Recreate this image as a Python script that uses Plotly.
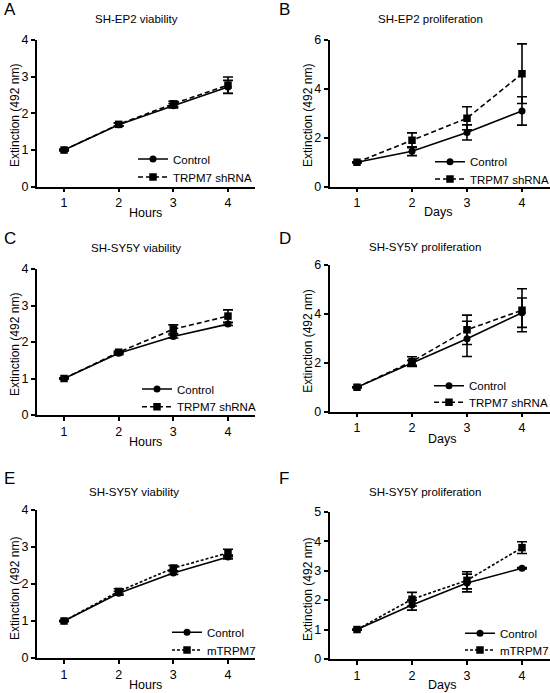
import plotly.graph_objects as go

W, H = 550, 693

# ---------------- data ----------------
x_vals = [1, 2, 3, 4]
x_ticklabels = ["1", "2", "3", "4"]

A_control = [1.00, 1.69, 2.21, 2.72]
A_control_err = [0.02, 0.04, 0.06, 0.18]
A_shrna = [1.00, 1.70, 2.26, 2.77]
A_shrna_err = [0.02, 0.04, 0.07, 0.22]

B_control = [1.00, 1.45, 2.22, 3.10]
B_control_err = [0.02, 0.18, 0.31, 0.58]
B_shrna = [1.00, 1.90, 2.80, 4.62]
B_shrna_err = [0.02, 0.30, 0.47, 1.22]

C_control = [1.00, 1.69, 2.15, 2.49]
C_control_err = [0.01, 0.03, 0.04, 0.04]
C_shrna = [1.00, 1.72, 2.35, 2.71]
C_shrna_err = [0.01, 0.03, 0.12, 0.17]

D_control = [1.00, 2.00, 2.98, 4.05]
D_control_err = [0.02, 0.10, 0.72, 0.60]
D_shrna = [1.00, 2.05, 3.35, 4.15]
D_shrna_err = [0.02, 0.20, 0.60, 0.88]

E_control = [1.00, 1.75, 2.30, 2.73]
E_control_err = [0.01, 0.05, 0.04, 0.05]
E_mtrpm7 = [1.00, 1.80, 2.43, 2.84]
E_mtrpm7_err = [0.01, 0.07, 0.07, 0.10]

F_control = [1.00, 1.83, 2.58, 3.08]
F_control_err = [0.01, 0.17, 0.30, 0.02]
F_mtrpm7 = [1.00, 2.03, 2.67, 3.78]
F_mtrpm7_err = [0.01, 0.23, 0.29, 0.20]

panel_letters = ["A", "B", "C", "D", "E", "F"]
panel_titles = ["SH-EP2 viability", "SH-EP2 proliferation",
                "SH-SY5Y viability", "SH-SY5Y proliferation",
                "SH-SY5Y viability", "SH-SY5Y proliferation"]
x_titles = ["Hours", "Days", "Hours", "Days", "Hours", "Days"]
y_title = "Extinction (492 nm)"
y_max = [4, 6, 4, 6, 4, 5]
y_dtick = [1, 2, 1, 2, 1, 1]
series_names = [("Control", "TRPM7 shRNA"), ("Control", "TRPM7 shRNA"),
                ("Control", "TRPM7 shRNA"), ("Control", "TRPM7 shRNA"),
                ("Control", "mTRPM7"), ("Control", "mTRPM7")]

panels = [
    (A_control, A_control_err, A_shrna, A_shrna_err),
    (B_control, B_control_err, B_shrna, B_shrna_err),
    (C_control, C_control_err, C_shrna, C_shrna_err),
    (D_control, D_control_err, D_shrna, D_shrna_err),
    (E_control, E_control_err, E_mtrpm7, E_mtrpm7_err),
    (F_control, F_control_err, F_mtrpm7, F_mtrpm7_err),
]

# ---------------- layout geometry (pixels) ----------------
x_px = [(36.7, 255.3), (329.5, 549.5)] * 3
y_px = [(40, 186.7), (40, 186.7), (269, 415), (265, 411.7), (510, 658), (511.7, 659)]
letter_pos = [(2, 9.5), (277, 9.5), (2, 238), (277, 238), (2, 479), (277, 479)]
title_pos = [(136.5, 19), (430, 19), (136, 248), (425, 247), (134, 492), (425, 492)]
xtitle_pos = [(145.7, 213), (438, 212), (145.7, 442), (441.7, 439), (145.8, 685), (441.7, 685)]
ytitle_pos = [(15, 116), (308, 116), (15, 345), (308, 341.7), (15, 589), (308, 590)]
legend_pos = [  # text start x, row1 y, row2 y
    (173, 159, 177), (470, 161.7, 179), (177, 389, 406.7),
    (469, 385.7, 402.3), (207, 632.3, 650), (500, 633.3, 650),
]
dash_styles = ["5px,3px"] * 4 + ["3px,2px"] * 2

FONT = "Arial, 'Liberation Sans', sans-serif"


def px_x(p):
    return p / W


def px_y(p):
    return 1 - p / H


fig = go.Figure()
layout = dict(
    width=W, height=H,
    margin=dict(l=0, r=0, t=0, b=0, pad=0, autoexpand=False),
    paper_bgcolor="white", plot_bgcolor="white",
    font=dict(family=FONT, size=12, color="black"),
    showlegend=True,
    annotations=[],
)

leg_idx = 0
for i, (ctrl, ctrl_err, trt, trt_err) in enumerate(panels):
    n = "" if i == 0 else str(i + 1)
    xa, ya = "x" + n, "y" + n
    x0, x1 = x_px[i]
    yt, yb = y_px[i]
    layout["xaxis" + n] = dict(
        domain=[px_x(x0), px_x(x1)], range=[0.5, 4.5], anchor=ya,
        tickvals=x_vals, ticktext=x_ticklabels,
        showline=True, linecolor="black", linewidth=1.5,
        ticks="outside", ticklen=4, tickwidth=1.5, tickcolor="black",
        showgrid=False, zeroline=False, fixedrange=True, automargin=False,
        tickfont=dict(size=12.5, family=FONT, color="black"),
    )
    layout["yaxis" + n] = dict(
        domain=[px_y(yb), px_y(yt)], range=[0, y_max[i]], anchor=xa,
        dtick=y_dtick[i], tick0=0,
        showline=True, linecolor="black", linewidth=1.5,
        ticks="outside", ticklen=4, tickwidth=1.5, tickcolor="black",
        showgrid=False, zeroline=False, fixedrange=True, automargin=False,
        tickfont=dict(size=12.5, family=FONT, color="black"),
    )
    names = series_names[i]
    for j, (vals, errs, sym, dash) in enumerate([
        (trt, trt_err, "square", dash_styles[i]),
        (ctrl, ctrl_err, "circle", "solid"),
    ]):
        leg_idx += 1
        lname = "legend" if leg_idx == 1 else "legend" + str(leg_idx)
        fig.add_trace(go.Scatter(
            x=x_vals, y=vals, xaxis=xa, yaxis=ya,
            mode="lines+markers",
            name=names[1] if j == 0 else names[0],
            line=dict(color="black", width=1.6, dash=dash),
            marker=dict(symbol=sym, size=7.5 if sym == "square" else 7, color="black"),
            error_y=dict(type="data", array=errs, visible=True,
                         color="black", thickness=1.6, width=5),
            cliponaxis=False,
            showlegend=True,
            legend=lname,
        ))
        tx, r1, r2 = legend_pos[i]
        ly = r2 if j == 0 else r1
        layout[lname] = dict(
            x=px_x(tx - 40), y=px_y(ly), xanchor="left", yanchor="middle",
            xref="paper", yref="paper",
            bgcolor="rgba(0,0,0,0)", borderwidth=0,
            font=dict(size=11.5, family=FONT, color="black"),
            itemclick=False, itemdoubleclick=False,
        )

    # texts
    lx, ly = letter_pos[i]
    layout["annotations"].append(dict(
        text=panel_letters[i], x=px_x(lx), y=px_y(ly), xref="paper", yref="paper",
        xanchor="left", yanchor="middle", showarrow=False,
        font=dict(size=17, family=FONT, color="black")))
    tx_, ty_ = title_pos[i]
    layout["annotations"].append(dict(
        text=panel_titles[i], x=px_x(tx_), y=px_y(ty_), xref="paper", yref="paper",
        xanchor="center", yanchor="middle", showarrow=False,
        font=dict(size=11.5, family=FONT, color="black")))
    ax_, ay_ = xtitle_pos[i]
    layout["annotations"].append(dict(
        text=x_titles[i], x=px_x(ax_), y=px_y(ay_), xref="paper", yref="paper",
        xanchor="center", yanchor="middle", showarrow=False,
        font=dict(size=12.5, family=FONT, color="black")))
    yx_, yy_ = ytitle_pos[i]
    layout["annotations"].append(dict(
        text=y_title, x=px_x(yx_), y=px_y(yy_), xref="paper", yref="paper",
        xanchor="center", yanchor="middle", showarrow=False, textangle=-90,
        font=dict(size=12, family=FONT, color="black")))

fig.update_layout(**layout)
fig.write_html(
    "out.html",
    config={"displayModeBar": False},
    post_script="document.body.style.margin='0';document.body.style.overflow='hidden';",
)
